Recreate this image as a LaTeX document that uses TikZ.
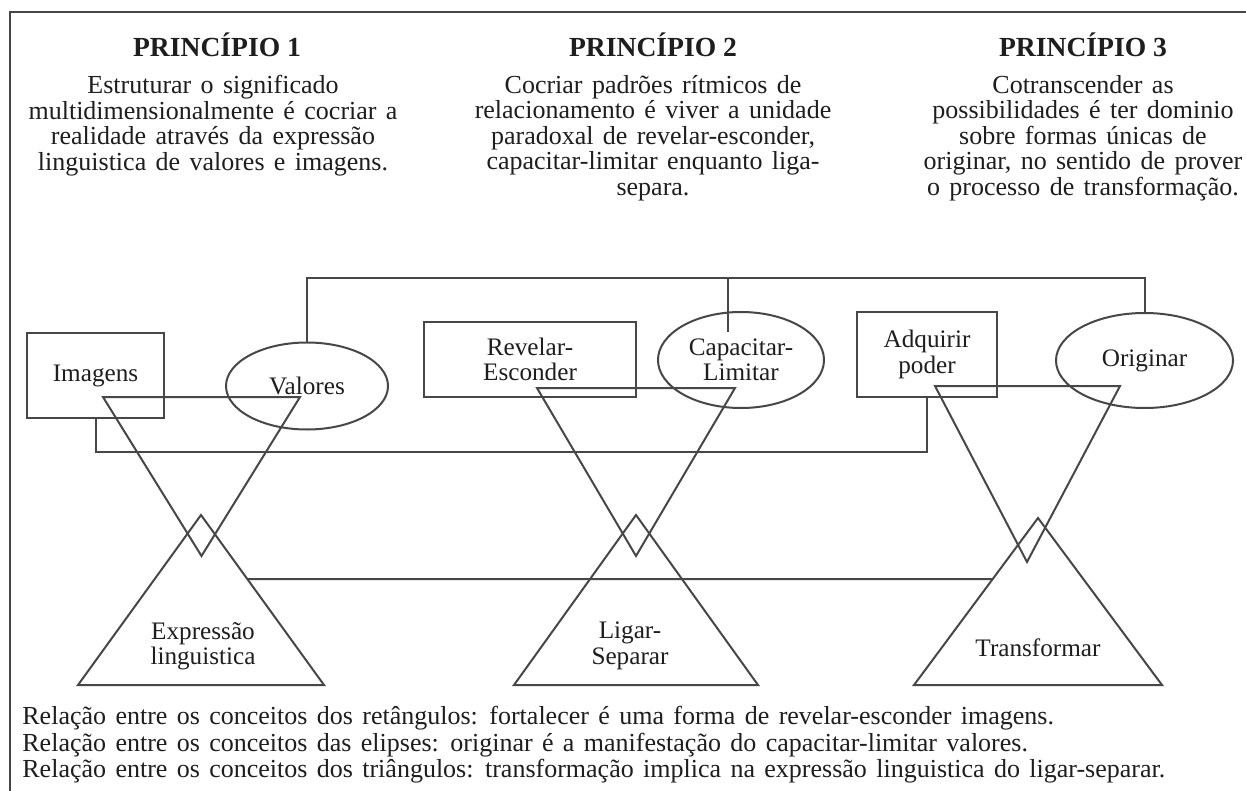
\documentclass[tikz,border=0pt]{standalone}
\usepackage{fontspec}
\setmainfont{Liberation Serif}
\usetikzlibrary{shapes.geometric,calc}
\definecolor{linec}{HTML}{474747}
\definecolor{txtc}{HTML}{1E1E1E}
\newcommand\myfont{\fontsize{12.6}{12.75}\selectfont}
\newcommand\mybodyfont{\fontsize{13}{12.75}\selectfont\spaceskip=0.36em plus 0.1em minus 0.05em\relax}
\newcommand\myfootfont{\fontsize{13}{12.75}\selectfont\spaceskip=0.36em plus 0.1em minus 0.05em\relax}
\begin{document}
\begin{tikzpicture}[x=0.5pt,y=-0.5pt,
  ln/.style={draw=linec, line width=1pt, line join=miter},
  box/.style={ln, rectangle, inner sep=0pt, align=center, font=\myfont, text=txtc},
  ell/.style={ln, ellipse, inner sep=0pt, align=center, font=\myfont, text=txtc},
  lbl/.style={align=center, font=\myfont, inner sep=0pt, text=txtc},
  ttl/.style={font=\fontsize{13.8}{14}\selectfont\bfseries, inner sep=0pt, text=txtc},
  body/.style={align=center, font=\mybodyfont, inner sep=0pt, text=txtc, anchor=north},
  foot/.style={align=left, font=\myfootfont, inner sep=0pt, text=txtc, anchor=west}]
\useasboundingbox[fill=white] (0,0) rectangle (1246,791);
% frame
\coordinate (fbl) at (10,791);
\coordinate (ftl) at (10,12);
\coordinate (ftr) at (1246,12);
\draw[ln] (fbl) -- (ftl) -- (ftr);

% titles
\node[ttl] (t1) at (217,45) {PRINCÍPIO 1};
\node[ttl] (t2) at (653,45) {PRINCÍPIO 2};
\node[ttl] (t3) at (1083,45) {PRINCÍPIO 3};

% principle texts
\node[body] (p1) at (213,75) {Estruturar o significado\\multidimensionalmente é cocriar a\\realidade através da expressão\\linguistica de valores e imagens.};
\node[body] (p2) at (653,75) {Cocriar padrões rítmicos de\\relacionamento é viver a unidade\\paradoxal de revelar-esconder,\\capacitar-limitar enquanto liga-\\separa.};
\node[body] (p3) at (1083,75) {Cotranscender as\\possibilidades é ter dominio\\sobre formas únicas de\\originar, no sentido de prover\\o processo de transformação.};

% shapes: rectangles and ellipses
\node[box, minimum width=68.5pt, minimum height=42.5pt] (img) at (95.5,375.5) {Imagens};
\node[ell, minimum width=81pt, minimum height=43.5pt] (val) at (307,386) {Valores};
\node[box, minimum width=106pt, minimum height=37.5pt] (rev) at (530,359.5) {Revelar-\\Esconder};
\node[ell, minimum width=83pt, minimum height=48pt] (cap) at (741,360) {Capacitar-\\Limitar};
\node[box, minimum width=70pt, minimum height=42.5pt] (adq) at (927,354.5) {Adquirir\\poder};
\node[ell, minimum width=88.5pt, minimum height=47.5pt] (ori) at (1144.5,360.5) {Originar};

% triangle corners
\coordinate (i1l) at (103,397); \coordinate (i1r) at (300,397); \coordinate (i1a) at (201.5,556);
\coordinate (u1a) at (201,515); \coordinate (u1l) at (78,685); \coordinate (u1r) at (324,685);
\coordinate (i2l) at (537,388); \coordinate (i2r) at (735,388); \coordinate (i2a) at (636,556);
\coordinate (u2a) at (636,515); \coordinate (u2l) at (514,685); \coordinate (u2r) at (758,685);
\coordinate (i3l) at (935,386); \coordinate (i3r) at (1120,386); \coordinate (i3a) at (1027,562);
\coordinate (u3a) at (1038,518); \coordinate (u3l) at (914,685); \coordinate (u3r) at (1162,685);

\draw[ln] (i1l) -- (i1r) -- (i1a) -- cycle;
\draw[ln] (u1a) -- (u1r) -- (u1l) -- cycle;
\draw[ln] (i2l) -- (i2r) -- (i2a) -- cycle;
\draw[ln] (u2a) -- (u2r) -- (u2l) -- cycle;
\draw[ln] (i3l) -- (i3r) -- (i3a) -- cycle;
\draw[ln] (u3a) -- (u3r) -- (u3l) -- cycle;

% triangle labels
\node[lbl] (expr) at (203,646) {Expressão\\linguistica};
\node[lbl] (lig) at (630,646) {Ligar-\\Separar};
\node[lbl] (trf) at (1038,648) {Transformar};

% connectors
\coordinate (topy) at (0,278);
\coordinate (lowy) at (0,452);
\coordinate (capin) at (728,332);
\draw[ln] (val.north) -- (val.north |- topy) -- (ori.north |- topy) -- (ori.north);
\draw[ln] (capin |- topy) -- (capin);
\draw[ln] (img.south) -- (img.south |- lowy) -- (adq.south |- lowy) -- (adq.south);
\coordinate (b1) at ($(u1a)!0.3765!(u1r)$);
\coordinate (b3) at ($(u3a)!0.3653!(u3l)$);
\draw[ln] (b1) -- (b3);

% footer
\node[foot] (f1) at (22,718) {Relação entre os conceitos dos retângulos: fortalecer é uma forma de revelar-esconder imagens.};
\node[foot] (f2) at (22,745) {Relação entre os conceitos das elipses: originar é a manifestação do capacitar-limitar valores.};
\node[foot] (f3) at (22,771) {Relação entre os conceitos dos triângulos: transformação implica na expressão linguistica do ligar-separar.};
\end{tikzpicture}
\end{document}
